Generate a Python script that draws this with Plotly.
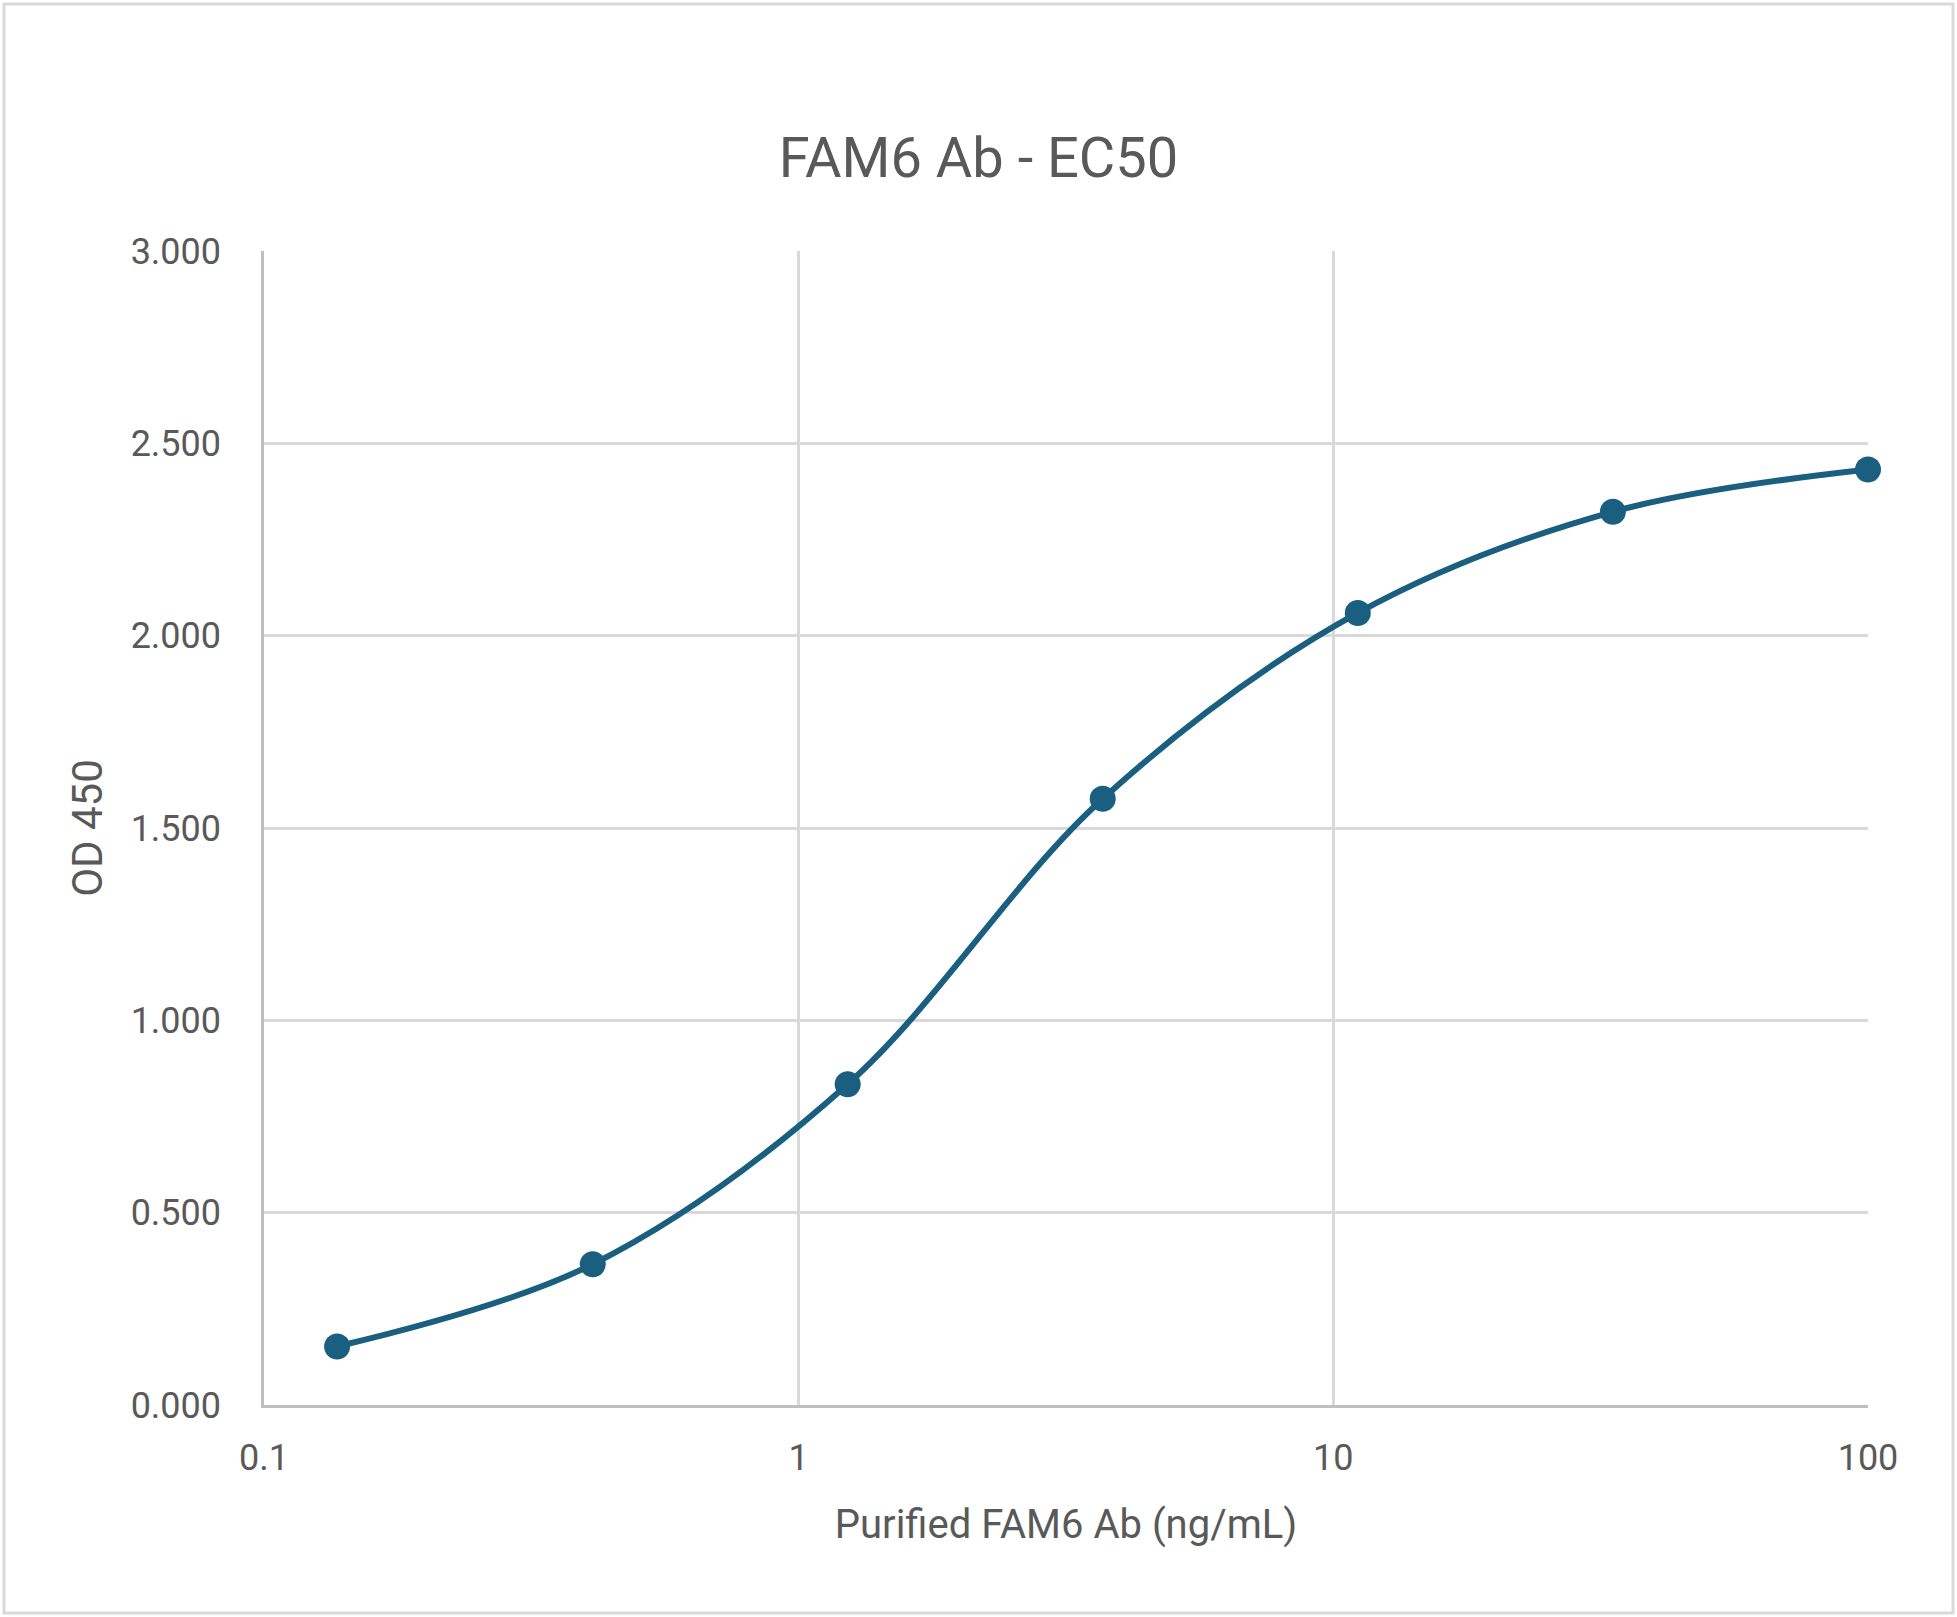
import plotly.graph_objects as go

# Data
concentration = [0.137, 0.412, 1.235, 3.704, 11.11, 33.33, 100.0]
od450 = [0.152, 0.366, 0.834, 1.576, 2.059, 2.322, 2.432]

x_tick_vals = [0.1, 1, 10, 100]
x_tick_text = ["0.1", "1", "10", "100"]
y_tick_vals = [0, 0.5, 1.0, 1.5, 2.0, 2.5, 3.0]

title_text = "FAM6 Ab - EC50"
x_title = "Purified FAM6 Ab (ng/mL)"
y_title = "OD 450"

FONT = "Roboto"
TXT = "#595959"
LINE = "#1a5f80"

fig = go.Figure()
fig.add_trace(go.Scatter(
    x=concentration, y=od450, mode="lines+markers",
    line=dict(color=LINE, width=6, shape="spline", smoothing=1.0),
    marker=dict(color=LINE, size=26),
    showlegend=False, cliponaxis=False,
))

W, H = 1957, 1617
L, R, T, B = 264, 89, 251, 212

fig.update_layout(
    width=W, height=H,
    margin=dict(l=L, r=R, t=T, b=B),
    paper_bgcolor="white", plot_bgcolor="white",
    font=dict(family=FONT, color=TXT),
    title=dict(text=title_text, x=0.5, xanchor="center", xref="container",
               y=1 - 157 / H, yanchor="middle", yref="container",
               font=dict(size=56, color=TXT, family=FONT)),
    xaxis=dict(
        type="log", range=[-1, 2],
        tickvals=x_tick_vals, ticktext=x_tick_text,
        showgrid=True, gridcolor="#d9d9d9", gridwidth=2.5,
        showline=True, linecolor="#bfbfbf", linewidth=2.5,
        ticks="", ticklabelstandoff=19,
        tickfont=dict(size=36, color=TXT),
        title=dict(text=x_title, font=dict(size=40, color=TXT), standoff=33),
        zeroline=False, mirror=False,
    ),
    yaxis=dict(
        range=[0, 3], tickvals=y_tick_vals, tickformat=".3f",
        showgrid=True, gridcolor="#d9d9d9", gridwidth=2.5,
        showline=True, linecolor="#bfbfbf", linewidth=2.5,
        ticks="", ticklabelstandoff=33,
        tickfont=dict(size=36, color=TXT),
        title=dict(text=y_title, font=dict(size=42, color=TXT), standoff=15),
        zeroline=False,
    ),
)

# Outer chart border
fig.add_shape(type="rect", xref="paper", yref="paper",
              x0=(4 - L) / (W - L - R), x1=(W - 4 - L) / (W - L - R),
              y0=(H - B - (H - 4)) / (H - T - B), y1=(H - B - 4) / (H - T - B),
              line=dict(color="#d9d9d9", width=3), fillcolor="rgba(0,0,0,0)",
              layer="below")

fig.write_html(
    "out.html",
    config={"displayModeBar": False},
    post_script="document.body.style.margin='0';document.body.style.overflow='hidden';",
)
